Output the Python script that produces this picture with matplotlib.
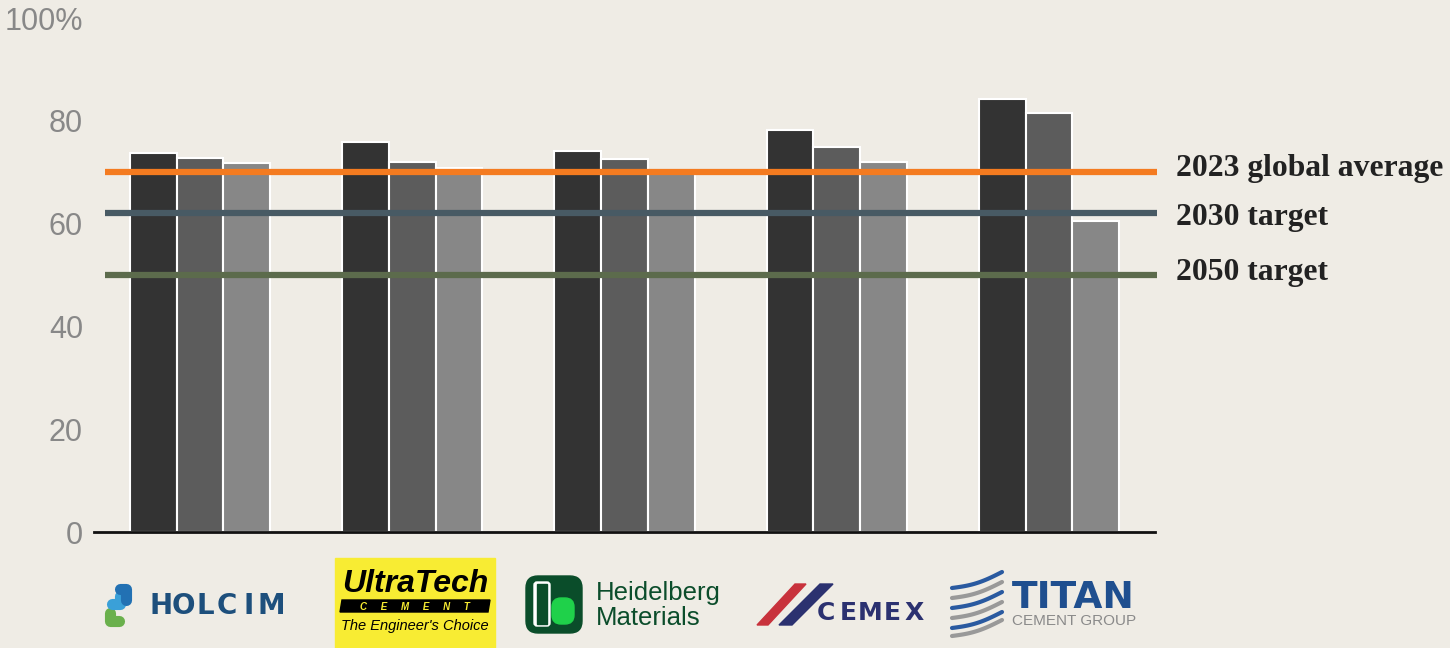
import matplotlib.pyplot as plt
import numpy as np
from matplotlib.patches import Rectangle, FancyBboxPatch, Polygon
from matplotlib.transforms import blended_transform_factory, offset_copy

companies = ['Holcim', 'UltraTech', 'Heidelberg Materials', 'Cemex', 'Titan']
series_a = [73.8, 75.9, 74.2, 78.2, 84.2]
series_b = [72.8, 71.9, 72.6, 75.0, 81.5]
series_c = [71.8, 70.8, 70.1, 71.9, 60.5]
bar_colors = ['#333333', '#5c5c5c', '#878787']

ref_values = [70, 62, 50]
ref_labels = ['2023 global average', '2030 target', '2050 target']
ref_colors = ['#f47b20', '#485a64', '#5c6b4c']

yticks = [0, 20, 40, 60, 80, 100]
ytick_labels = ['0', '20', '40', '60', '80', '100%']

bg = '#efece5'
W, H = 1450, 648
fig = plt.figure(figsize=(W / 100, H / 100), dpi=100, facecolor=bg)
ax = fig.add_axes([94 / W, 1 - 532 / H, (1155 - 94) / W, (532 - 18) / H])
ax.set_facecolor(bg)

x = np.arange(len(companies))
w = 0.22
for i, vals in enumerate([series_a, series_b, series_c]):
    ax.bar(x + (i - 1) * w, vals, w, color=bar_colors[i], edgecolor='white',
           linewidth=1.5, zorder=2)

tr = blended_transform_factory(ax.transAxes, ax.transData)
label_shift = [3, -3, 2]  # small vertical nudges in points
for v, lab, c, dy in zip(ref_values, ref_labels, ref_colors, label_shift):
    ax.plot([0.01, 1.002], [v, v], color=c, lw=4.5, transform=tr, clip_on=False,
            zorder=3, solid_capstyle='butt')
    ax.text(1.02, v, lab, transform=offset_copy(tr, fig=fig, y=dy, units='points'),
            fontsize=22.8, fontweight='bold', family='Liberation Serif',
            color='#222222', va='center', ha='left')

ax.set_xlim(-0.5, 4.5)
ax.set_ylim(0, 100)
ax.set_yticks(yticks)
ax.set_yticklabels(ytick_labels, fontsize=22, color='#888888', family='Liberation Sans')
ax.tick_params(axis='y', length=0, pad=8)
ax.set_xticks([])
for s in ['top', 'right', 'left']:
    ax.spines[s].set_visible(False)
ax.spines['bottom'].set_linewidth(2)
ax.spines['bottom'].set_color('#111111')

# logo overlay in pixel coordinates
ov = fig.add_axes([0, 0, 1, 1], zorder=5)
ov.set_xlim(0, W)
ov.set_ylim(H, 0)
ov.axis('off')
ov.patch.set_alpha(0)


def spaced(x0, y0, txt, step, **kw):
    for k, ch in enumerate(txt):
        ov.text(x0 + k * step, y0, ch, ha='center', va='center', **kw)


# Holcim
ov.plot([110, 110, 119], [613, 621, 621], color='#6ab04c', lw=8, solid_capstyle='round')
ov.plot([112, 120, 120], [604, 604, 596], color='#3aa0d8', lw=8, solid_capstyle='round')
ov.plot([120, 126, 126], [589, 589, 600], color='#2271b3', lw=8, solid_capstyle='round')
spaced(161, 606, 'HOLCIM', 22, fontsize=20, fontweight='heavy', color='#1d4f7c',
       family='DejaVu Sans')

# UltraTech
ov.add_patch(Rectangle((335, 558), 160, 90, color='#f8ec33'))
ov.text(415, 584, 'UltraTech', fontsize=23, fontweight='bold', style='italic',
        color='black', family='Liberation Sans', ha='center', va='center')
ov.add_patch(Polygon([[342, 600], [490, 600], [488, 612], [340, 612]], color='black'))
ov.text(415, 606.5, 'C     E     M     E     N     T', fontsize=7, fontweight='bold',
        style='italic', color='#f8ec33', family='Liberation Sans', ha='center', va='center')
ov.text(415, 626, "The Engineer's Choice", fontsize=10.5, style='italic',
        color='black', family='Liberation Sans', ha='center', va='center')

# Heidelberg Materials
ov.add_patch(FancyBboxPatch((526, 576), 56, 57, boxstyle='round,pad=0,rounding_size=12',
                            color='#0a4d2a'))
ov.add_patch(FancyBboxPatch((534, 582), 16, 44, boxstyle='round,pad=0,rounding_size=3',
                            color='white'))
ov.add_patch(Rectangle((537, 584), 10, 40, color='#0a4d2a'))
ov.add_patch(FancyBboxPatch((552, 598), 22, 26, boxstyle='round,pad=0,rounding_size=9',
                            color='#1fd14a'))
ov.text(596, 593, 'Heidelberg', fontsize=18.5, color='#0b4d2b', family='Liberation Sans',
        ha='left', va='center')
ov.text(596, 618, 'Materials', fontsize=18.5, color='#0b4d2b', family='Liberation Sans',
        ha='left', va='center')

# Cemex
ov.add_patch(Polygon([[757, 625], [768, 625], [806, 584], [795, 584]], color='#c8323c'))
ov.add_patch(Polygon([[779, 625], [792, 625], [833, 584], [820, 584]], color='#2b3170'))
spaced(826, 613, 'CEMEX', 22, fontsize=18, fontweight='heavy', color='#2b3170',
       family='DejaVu Sans')

# Titan
t = np.linspace(0, 1, 50)
for k, (yy, c) in enumerate([(580, '#2a5aa0'), (590, '#999999'), (600, '#2a5aa0'),
                            (610, '#999999'), (620, '#2a5aa0'), (628, '#999999')]):
    xs = 952 + 50 * t
    ys = yy + 8 - 16 * t + 3 * np.sin(np.pi * t)
    ov.plot(xs, ys, color=c, lw=3, solid_capstyle='round')
ov.text(1073, 598, 'TITAN', fontsize=27, fontweight='bold', color='#1f4f8f',
        family='DejaVu Sans', ha='center', va='center')
ov.text(1074, 621, 'CEMENT GROUP', fontsize=11, color='#8a8a8a',
        family='Liberation Sans', ha='center', va='center')

fig.savefig('out.png', dpi=100, facecolor=bg)
